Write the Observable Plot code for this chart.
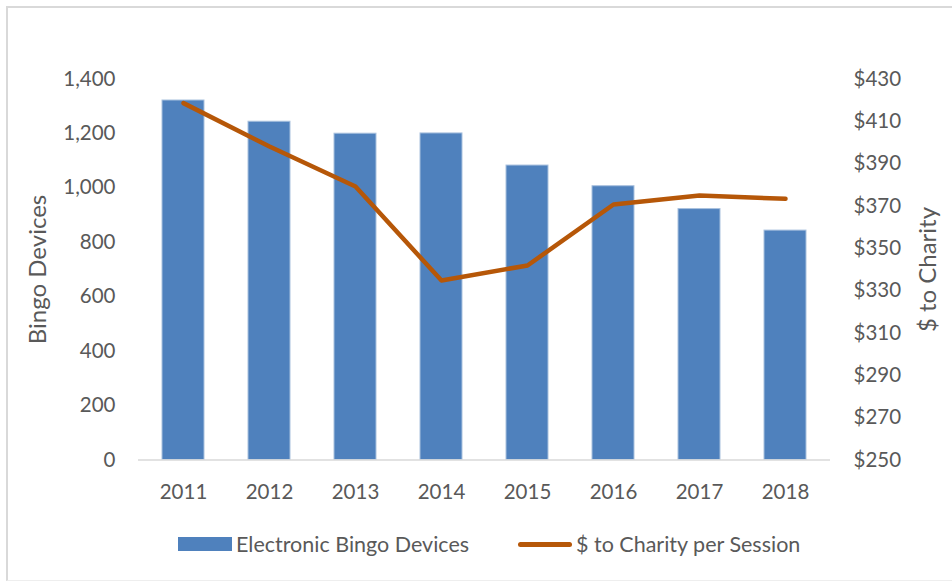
<!DOCTYPE html>
<html>
<head>
<meta charset="utf-8">
<script src="https://cdn.jsdelivr.net/npm/d3@7"></script>
<script src="https://cdn.jsdelivr.net/npm/@observablehq/plot@0.6"></script>
<style>
  html, body { margin: 0; padding: 0; background: #fff; width: 952px; height: 582px; overflow: hidden; }
  body { position: relative; font-family: Lato, "Open Sans", sans-serif; color: #595959; }
  #frame { position: absolute; left: 6px; top: 6px; width: 1000px; height: 572px; border-left: 2px solid #d9d9d9; border-top: 2px solid #d9d9d9; border-bottom: 1px solid #eeeeee; }
  #chart { position: absolute; left: 0; top: 0; }
  .legend { position: absolute; top: 531px; font-size: 21.5px; color: #595959; white-space: nowrap; line-height: 26px; }
  .sw-bar { position: absolute; width: 54px; height: 14px; background: #4f81bd; }
  .sw-line { position: absolute; width: 54px; height: 5px; background: #b65708; border-radius: 3px; }
</style>
</head>
<body>
<div id="frame"></div>
<div id="chart"></div>
<div class="sw-bar" style="left:178px; top:537px;"></div>
<div class="legend" style="left:236px;">Electronic Bingo Devices</div>
<div class="sw-line" style="left:518px; top:542px;"></div>
<div class="legend" style="left:576px;">$ to Charity per Session</div>
<script>
const years = ["2011","2012","2013","2014","2015","2016","2017","2018"];
const devices = [1321, 1243, 1199, 1200, 1082, 1006, 922, 843];
const charity = [418.6, 398.1, 379.2, 334.8, 341.9, 370.7, 375.0, 373.4];
const leftTicks = [0, 200, 400, 600, 800, 1000, 1200, 1400];
const rightTicks = [250, 270, 290, 310, 330, 350, 370, 390, 410, 430];

const rMin = 250, rMax = 430, lMax = 1400;
const toLeft = v => (v - rMin) * lMax / (rMax - rMin);

const barData = years.map((y, i) => ({year: y, value: devices[i]}));
const lineData = years.map((y, i) => ({year: y, value: toLeft(charity[i])}));

const fmt = d3.format(",");
const chart = Plot.plot({
  width: 952,
  height: 510,
  marginLeft: 138,
  marginRight: 122,
  marginTop: 78.5,
  marginBottom: 50.5,
  style: {fontFamily: "Lato, 'Open Sans', sans-serif", color: "#595959", background: "transparent"},
  x: {type: "band", domain: years, padding: 0.514, paddingOuter: 0.257},
  y: {domain: [0, lMax]},
  marks: [
    Plot.barY(barData, {x: "year", y: "value", fill: "#4f81bd", stroke: "#a9c1de", strokeWidth: 1}),
    Plot.ruleY([0], {stroke: "#d9d9d9", strokeWidth: 1.5}),
    Plot.lineY(lineData, {x: "year", y: "value", stroke: "#b65708", strokeWidth: 4.5, strokeLinecap: "round", strokeLinejoin: "round"}),
    Plot.axisY(leftTicks, {anchor: "left", tickSize: 0, tickPadding: 23, tickFormat: fmt, fontSize: 20.5, label: null, fill: "#595959"}),
    Plot.axisY(rightTicks.map(toLeft), {anchor: "right", tickSize: 0, tickPadding: 23, tickFormat: v => "$" + Math.round(v * (rMax - rMin) / lMax + rMin), fontSize: 20.5, label: null, fill: "#595959"}),
    Plot.axisX({anchor: "bottom", tickSize: 0, tickPadding: 24, fontSize: 20.5, label: null, fill: "#595959"}),
    Plot.text(["Bingo Devices"], {frameAnchor: "left", dx: -100, rotate: -90, textAnchor: "middle", fontSize: 24, fill: "#595959"}),
    Plot.text(["$ to Charity"], {frameAnchor: "right", dx: 98, rotate: -90, textAnchor: "middle", fontSize: 24, fill: "#595959"})
  ]
});
document.getElementById("chart").appendChild(chart);
</script>
</body>
</html>
